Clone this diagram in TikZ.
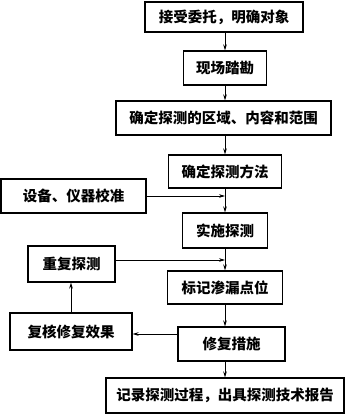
\documentclass[tikz,border=0pt]{standalone}
\usepackage{fontspec}
\newfontfamily\cjk{Noto Sans CJK SC}
\usetikzlibrary{arrows.meta}
\tikzset{
  box/.style={draw, line width=1.2pt, inner sep=0pt, font=\cjk\bfseries\fontsize{14.5pt}{16pt}\selectfont},
  arr/.style={line width=0.7pt, -{Stealth[length=6pt,width=3.6pt]}}
}
\begin{document}
\begin{tikzpicture}[x=1pt,y=-1pt]
\useasboundingbox (0,0) rectangle (347,414);
\node[box, minimum width=158pt, minimum height=30pt] (b1) at (224,17) {接受委托，明确对象};
\node[box, minimum width=83pt, minimum height=34pt] (b2) at (225,68) {现场踏勘};
\node[box, minimum width=215pt, minimum height=34pt] (b3) at (223.5,118) {确定探测的区域、内容和范围};
\node[box, minimum width=113pt, minimum height=33pt] (b4) at (225,171.5) {确定探测方法};
\node[box, minimum width=145pt, minimum height=34pt] (bs) at (73.5,196) {设备、仪器校准\hspace{16pt}};
\node[box, minimum width=85pt, minimum height=35pt] (b5) at (225,230.5) {实施探测};
\node[box, minimum width=87pt, minimum height=36pt] (bc) at (71.5,264) {重复探测\hspace{6pt}};
\node[box, minimum width=115pt, minimum height=33pt] (b6) at (225,287.5) {标记渗漏点位};
\node[box, minimum width=122pt, minimum height=37pt] (bk) at (71,331.5) {复核修复效果\hspace{7pt}};
\node[box, minimum width=107pt, minimum height=34pt] (b7) at (231.5,344) {修复措施\hspace{22pt}};
\node[box, minimum width=238pt, minimum height=35pt] (b8) at (225,395.5) {记录探测过程，出具探测技术报告};

\draw[arr] (b1.south -| b2.north) -- (b2.north);
\draw[arr] (b2.south) -- (b2.south |- b3.north);
\draw[arr] (b3.south -| b4.north) -- (b4.north);
\draw[arr] (b4.south) -- (b5.north);
\draw[arr] (bs.east) -- (bs.east -| b4.south);
\draw[arr] (b5.south) -- (b6.north);
\coordinate (cr) at ([yshift=4pt]bc.east);
\draw[arr] (cr) -- (cr -| b5.south);
\draw[arr] (b6.south) -- (b6.south |- b7.north);
\coordinate (kr) at ([yshift=10pt]b7.west);
\draw[arr] (kr) -- (kr -| bk.east);
\draw[arr] (bk.north) -- (bk.north |- bc.south);
\draw[arr] (b7.south -| b8.north) -- (b8.north);
\end{tikzpicture}
\end{document}
